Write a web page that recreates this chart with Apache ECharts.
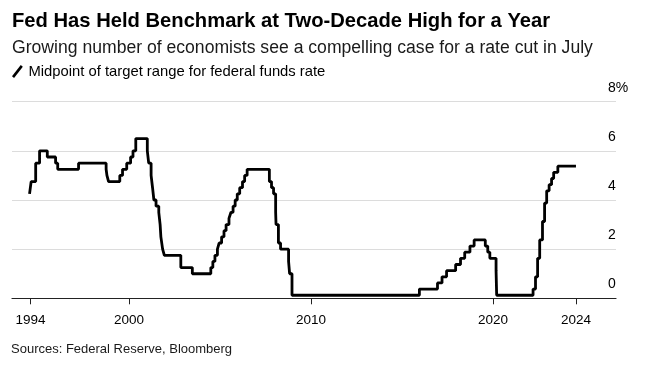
<!DOCTYPE html>
<html><head><meta charset="utf-8">
<script src="https://cdn.jsdelivr.net/npm/echarts@6/dist/echarts.min.js"></script>
<style>html,body{margin:0;padding:0;background:#fff}#c{width:648px;height:366px}</style>
</head><body><div id="c"></div>
<script>
// Fed funds target (midpoint of range) — change dates and new values
const changeDates = [
 '1994-07-15','1994-08-16','1994-11-15','1995-02-01','1995-07-06','1995-12-19','1996-01-31','1997-03-25',
 '1998-09-29','1998-10-15','1998-11-17','1999-06-30','1999-08-24','1999-11-16','2000-02-02','2000-03-21','2000-05-16',
 '2001-01-03','2001-01-31','2001-03-20','2001-04-18','2001-05-15','2001-06-27','2001-08-21','2001-09-17','2001-10-02','2001-11-06','2001-12-11',
 '2002-11-06','2003-06-25','2004-06-30','2004-08-10','2004-09-21','2004-11-10','2004-12-14',
 '2005-02-02','2005-03-22','2005-05-03','2005-06-30','2005-08-09','2005-09-20','2005-11-01','2005-12-13',
 '2006-01-31','2006-03-28','2006-05-10','2006-06-29','2007-09-18','2007-10-31','2007-12-11',
 '2008-01-22','2008-01-30','2008-03-18','2008-04-30','2008-10-08','2008-10-29','2008-12-16',
 '2015-12-16','2016-12-14','2017-03-15','2017-06-14','2017-12-13','2018-03-21','2018-06-13','2018-09-26','2018-12-19',
 '2019-07-31','2019-09-18','2019-10-30','2020-03-03','2020-03-15',
 '2022-03-16','2022-05-04','2022-06-15','2022-07-27','2022-09-21','2022-11-02','2022-12-14',
 '2023-02-01','2023-03-22','2023-05-03','2023-07-26','2024-07-24'
];
const rates = [
 4.25,4.75,5.5,6.0,5.75,5.5,5.25,5.5,
 5.25,5.0,4.75,5.0,5.25,5.5,5.75,6.0,6.5,
 6.0,5.5,5.0,4.5,4.0,3.75,3.5,3.0,2.5,2.0,1.75,
 1.25,1.0,1.25,1.5,1.75,2.0,2.25,
 2.5,2.75,3.0,3.25,3.5,3.75,4.0,4.25,
 4.5,4.75,5.0,5.25,4.75,4.5,4.25,
 3.5,3.0,2.25,2.0,1.5,1.0,0.125,
 0.375,0.625,0.875,1.125,1.375,1.625,1.875,2.125,2.375,
 2.125,1.875,1.625,1.125,0.125,
 0.375,0.875,1.625,2.375,3.125,3.875,4.375,
 4.625,4.875,5.125,5.375,5.375
];
const xTickDates = ['1994-08-01','2000-01-01','2010-01-01','2020-01-01','2024-07-24'];
const xTickLabels = ['1994','2000','2010','2020','2024'];
const yTicks = [0,2,4,6,8];
const yTickLabels = ['0','2','4','6','8%'];

// date string -> fractional year
const fy = s => { const p = s.split('-').map(Number);
  const a = Date.UTC(p[0],0,1), b = Date.UTC(p[0]+1,0,1), t = Date.UTC(p[0],p[1]-1,p[2]);
  return p[0] + (t - a) / (b - a); };
const seriesData = changeDates.map((d,i) => [fy(d), rates[i]]);
const xTickVals = xTickDates.map(fy);

const chart = echarts.init(document.getElementById('c'), null, {renderer:'canvas'});
const FONT = '"Liberation Sans", Arial, Helvetica, sans-serif';
chart.setOption({
  animation: false,
  backgroundColor: '#fff',
  textStyle: {fontFamily: FONT},
  title: [
    {text: 'Fed Has Held Benchmark at Two-Decade High for a Year', left: 7, top: 6,
     textStyle: {fontFamily: FONT, fontSize: 20.2, fontWeight: 'bold', color: '#000'}},
    {text: 'Growing number of economists see a compelling case for a rate cut in July', left: 7, top: 34,
     textStyle: {fontFamily: FONT, fontSize: 17.6, fontWeight: 'normal', color: '#1a1a1a'}},
    {text: 'Sources: Federal Reserve, Bloomberg', left: 6, top: 338,
     textStyle: {fontFamily: FONT, fontSize: 13, fontWeight: 'normal', color: '#1a1a1a'}}
  ],
  legend: {
    left: 7, top: 59, itemWidth: 12, itemHeight: 13, itemGap: 7,
    icon: 'path://M0,11 L8.5,0 L10.5,1.6 L2,12.6 Z',
    textStyle: {fontFamily: FONT, fontSize: 14.8, color: '#000'},
    data: [{name: 'Midpoint of target range for federal funds rate', itemStyle: {color: '#000'}}]
  },
  grid: {left: 12, right: 32, top: 101.7, bottom: 67.7, containLabel: false, outerBoundsMode: 'none'},
  xAxis: {
    type: 'value', min: 1993.57, max: 2026.76,
    axisLine: {show: true, onZero: false, lineStyle: {color: '#222', width: 1.2}},
    axisTick: {show: true, length: 6, lineStyle: {color: '#222'}, customValues: xTickVals},
    axisLabel: {show: true, customValues: xTickVals, margin: 15, fontSize: 13.5, color: '#000', fontFamily: FONT,
      formatter: function (v) {
        let best = 0, bd = Infinity;
        xTickVals.forEach((t,i) => { const d = Math.abs(t - v); if (d < bd) { bd = d; best = i; } });
        return xTickLabels[best];
      }},
    splitLine: {show: false}
  },
  yAxis: {
    type: 'value', position: 'right', min: 0, max: 8, interval: 2,
    axisLine: {show: false}, axisTick: {show: false},
    splitLine: {show: true, lineStyle: {color: '#dcdcdc', width: 1}},
    axisLabel: {inside: true, margin: 8, align: 'left', verticalAlign: 'bottom', padding: [0,0,7,0],
      fontSize: 14, color: '#000', fontFamily: FONT,
      formatter: function (v) { const i = yTicks.indexOf(v); return i >= 0 ? yTickLabels[i] : ''; }}
  },
  series: [{
    name: 'Midpoint of target range for federal funds rate',
    type: 'line', step: 'end', showSymbol: false, data: seriesData,
    lineStyle: {color: '#000', width: 2.8}, itemStyle: {color: '#000'}, z: 5
  }]
});
</script></body></html>
